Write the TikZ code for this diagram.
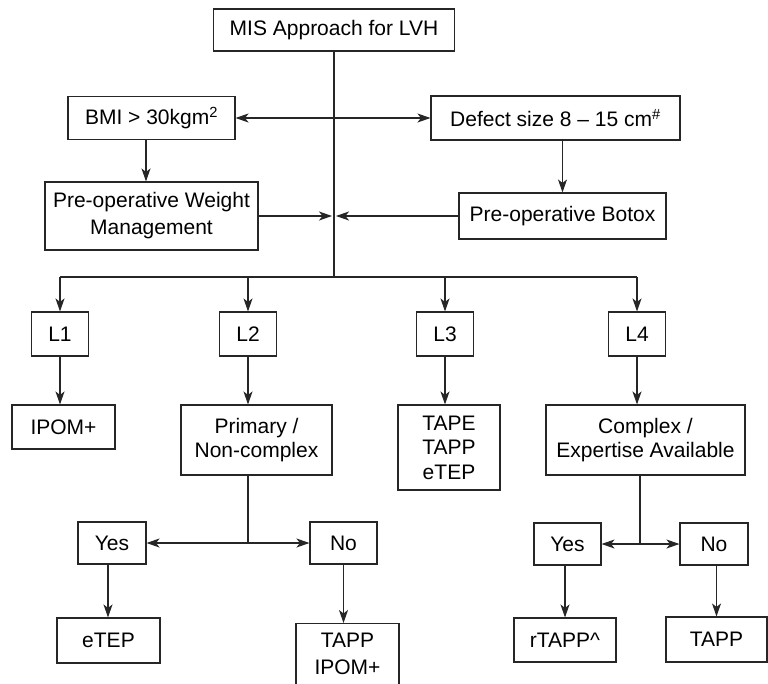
\documentclass[tikz,border=0pt]{standalone}
\usepackage{fontspec}
\setmainfont{Liberation Sans}
\usetikzlibrary{arrows.meta}
\begin{document}
\begin{tikzpicture}[x=1pt,y=-1pt,
  box/.style={draw=black!85, line width=1.1pt, inner sep=0pt, align=center,
    font=\fontsize{21}{24.5}\selectfont},
  ln/.style={draw=black!85, line width=1.1pt},
  arr/.style={ln, -{Stealth[length=13pt,width=9pt,inset=3.5pt]}},
  darr/.style={ln, {Stealth[length=13pt,width=9pt,inset=3.5pt]}-{Stealth[length=13pt,width=9pt,inset=3.5pt]}}]
\clip (0,0) rectangle (768,683);
\fill[white] (0,0) rectangle (768,683);
% top
\node[box, minimum width=241pt, minimum height=42pt] (mis) at (334,30) {MIS Approach for LVH};
\node[box, minimum width=167pt, minimum height=43pt] (bmi) at (151.5,118) {BMI > 30kgm\textsuperscript{2}};
\node[box, minimum width=249pt, minimum height=44pt] (defect) at (555.5,118) {Defect size 8 -- 15 cm\textsuperscript{\#}};
\node[box, minimum width=213pt, minimum height=68pt, font=\fontsize{21}{27}\selectfont] (weight) at (151.5,216) {Pre-operative Weight\\Management};
\node[box, minimum width=207pt, minimum height=46pt] (botox) at (562.5,216) {Pre-operative Botox};
\coordinate (t1) at (334,277);
% levels
\node[box, minimum width=57pt, minimum height=44pt] (L1) at (60,334) {L1};
\node[box, minimum width=57pt, minimum height=44pt] (L2) at (248,334) {L2};
\node[box, minimum width=57pt, minimum height=44pt] (L3) at (445,334) {L3};
\node[box, minimum width=57pt, minimum height=44pt] (L4) at (637,334) {L4};
% row 3
\node[box, minimum width=103pt, minimum height=44pt] (ipom) at (63.5,427) {IPOM+};
\node[box, minimum width=151pt, minimum height=70pt] (primary) at (256.5,440) {Primary /\\Non-complex};
\node[box, minimum width=102pt, minimum height=85pt] (tape) at (449,447.5) {TAPE\\TAPP\\eTEP};
\node[box, minimum width=199pt, minimum height=70pt] (complex) at (645.5,440) {Complex /\\Expertise Available};
% row 4
\coordinate (j1) at (248,543);
\coordinate (j2) at (640,544);
\node[box, minimum width=68pt, minimum height=42pt] (yes1) at (112,543) {Yes};
\node[box, minimum width=67pt, minimum height=42pt] (no1) at (343.5,543) {No};
\node[box, minimum width=67pt, minimum height=42pt] (yes2) at (567.5,544) {Yes};
\node[box, minimum width=68pt, minimum height=42pt] (no2) at (714,544) {No};
% row 5
\node[box, minimum width=103pt, minimum height=45pt] (etep) at (108.5,640.5) {eTEP};
\node[box, minimum width=103pt, minimum height=61pt, font=\fontsize{21}{27}\selectfont, anchor=north] (tappipom) at (347.5,623) {TAPP\\IPOM+};
\node[box, minimum width=102pt, minimum height=44pt] (rtapp) at (565,640) {rTAPP\textasciicircum};
\node[box, minimum width=101pt, minimum height=45pt] (tapp) at (716.5,639.5) {TAPP};
% connectors
\draw[ln] (mis.south) -- (t1);
\draw[darr] (bmi.east) -- (defect.west);
\draw[arr] ([xshift=-5.5pt]bmi.south) -- ([xshift=-5.5pt]weight.north);
\draw[arr] (defect.south -| botox.north) -- (botox.north);
\draw[arr] (weight.east) -- ([xshift=-2pt]weight.east -| t1);
\draw[arr] (botox.west) -- ([xshift=2pt]botox.west -| t1);
\draw[ln] (L1 |- t1) -- (L4 |- t1);
\foreach \n in {L1,L2,L3,L4} \draw[arr] (\n |- t1) -- (\n.north);
\draw[arr] (L1.south) -- (L1.south |- ipom.north);
\draw[arr] (L2.south) -- (L2.south |- primary.north);
\draw[arr] (L3.south) -- (L3.south |- tape.north);
\draw[arr] (L4.south) -- (L4.south |- complex.north);
\draw[ln] (primary.south -| j1) -- (j1);
\draw[arr] (j1) -- (yes1.east);
\draw[arr] (j1) -- (no1.west);
\draw[ln] (complex.south -| j2) -- (j2);
\draw[arr] (j2) -- (yes2.east);
\draw[arr] (j2) -- (no2.west);
\draw[arr] ([xshift=-4pt]yes1.south) -- ([xshift=-4pt]yes1.south |- etep.north);
\draw[arr] (no1.south) -- (no1.south |- tappipom.north);
\draw[arr] (yes2.south -| rtapp.north) -- (rtapp.north);
\draw[arr] (no2.south -| tapp.north) -- (tapp.north);
\end{tikzpicture}
\end{document}
